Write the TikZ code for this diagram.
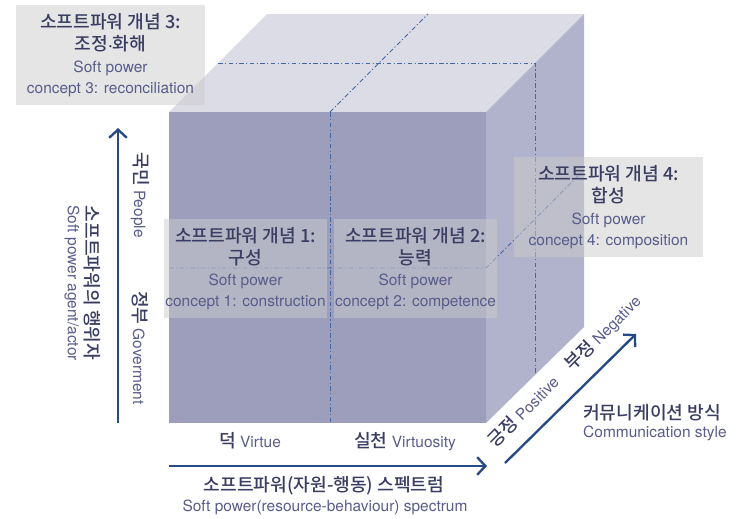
\documentclass[tikz,border=0pt]{standalone}
\usepackage{fontspec}
\setmainfont{TeX Gyre Heros}
\newfontfamily\kr{Noto Sans CJK KR Medium}
\usetikzlibrary{arrows.meta}

\definecolor{frontcol}{HTML}{9D9EBC}
\definecolor{topcol}{HTML}{DCDCE7}
\definecolor{sidecol}{HTML}{B1B2CB}
\definecolor{guidecol}{HTML}{4468A6}
\definecolor{axiscol}{HTML}{274A86}
\definecolor{krcol}{HTML}{3A3D62}
\definecolor{encol}{HTML}{585C8A}

\newcommand{\krb}{\kr\fontsize{15.5}{19}\selectfont}

\begin{document}
\begin{tikzpicture}[x=0.03cm, y=-0.03cm,
  guide/.style={draw=guidecol, line width=0.7pt, dash pattern=on 4pt off 2pt on 1pt off 2pt},
  axis/.style={draw=axiscol, line width=2pt, -{Straight Barb[length=7pt,width=15pt]}},
  conbox/.style={fill=black!20, fill opacity=0.5, text opacity=1, inner sep=0pt,
    align=center, text=encol, font=\fontsize{13.2}{18}\selectfont},
  axlab/.style={text=encol, font=\fontsize{13.2}{15}\selectfont, inner sep=0pt}]
  \useasboundingbox (0,0) rectangle (745,518);

  % 立方体三个面
  \fill[topcol] (169,112) -- (486,112) -- (584,14) -- (267,14) -- cycle;
  \fill[sidecol] (486,112) -- (584,14) -- (584,327) -- (486,423) -- cycle;
  \fill[frontcol] (169,112) rectangle (486,423);

  % 中线(点划线)
  \draw[guide] (330,112) -- (330,423);
  \draw[guide] (169,268) -- (486,268) -- (584,170);
  \draw[guide] (218,63) -- (535,63) -- (535,375);
  \draw[guide] (330,112) -- (428,14);

  % 四个概念框
  \node[conbox, minimum width=5.67cm, minimum height=3cm] (con3) at (110.5,55)
    {{\krb\textcolor{krcol}{소프트파워 개념 3:}}\\[1pt]\textcolor{krcol}{{\krb 조정}\textbf{·}{\krb 화해}}\\Soft power\\concept 3: reconciliation};
  \node[conbox, minimum width=4.89cm, minimum height=2.97cm] (con1) at (245.5,268.5)
    {{\krb\textcolor{krcol}{소프트파워 개념 1:}}\\[1pt]{\krb\textcolor{krcol}{구성}}\\Soft power\\concept 1: construction};
  \node[conbox, minimum width=4.89cm, minimum height=2.97cm] (con2) at (415.5,268.5)
    {{\krb\textcolor{krcol}{소프트파워 개념 2:}}\\[1pt]{\krb\textcolor{krcol}{능력}}\\Soft power\\concept 2: competence};
  \node[conbox, minimum width=5.67cm, minimum height=3cm] (con4) at (608.5,207)
    {{\krb\textcolor{krcol}{소프트파워 개념 4:}}\\[1pt]{\krb\textcolor{krcol}{합성}}\\Soft power\\concept 4: composition};

  % 纵轴:行为者
  \coordinate (actlow) at (118,423);
  \coordinate (acthigh) at (118,128);
  \draw[axis] (actlow) -- (acthigh);
  \node[axlab, rotate=-90] (people) at (140,195) {{\krb\textcolor{krcol}{국민}} People};
  \node[axlab, rotate=-90] (govt) at (140,348) {{\krb\textcolor{krcol}{정부}} Goverment};
  \node[axlab, rotate=-90] (actkr) at (92,283) {\krb\textcolor{krcol}{소프트파워의 행위자}};
  \node[axlab, rotate=-90] (acten) at (72,283) {Soft power agent/actor};

  % 横轴:资源-行动
  \coordinate (specleft) at (169,466);
  \coordinate (specright) at (487,466);
  \draw[axis] (specleft) -- (specright);
  \node[axlab] (virtue) at (250,441) {{\krb\textcolor{krcol}{덕}} Virtue};
  \node[axlab] (virtuo) at (405,442) {{\krb\textcolor{krcol}{실천}} Virtuosity};
  \node[axlab] (speckr) at (324,486) {\krb\textcolor{krcol}{소프트파워(자원-행동) 스펙트럼}};
  \node[axlab] (specen) at (325,507) {Soft power(resource-behaviour) spectrum};

  % 斜轴:沟通方式
  \coordinate (commlow) at (505,463);
  \coordinate (commhigh) at (636,334);
  \draw[axis] (commlow) -- (commhigh);
  \node[axlab, rotate=45] (posi) at (523,411) {{\krb\textcolor{krcol}{긍정}} Positive};
  \node[axlab, rotate=45] (nega) at (603,333) {{\krb\textcolor{krcol}{부정}} Negative};
  \node[axlab, anchor=west] (commkr) at (583,413) {\krb\textcolor{krcol}{커뮤니케이션 방식}};
  \node[axlab, anchor=west] (commen) at (583,433) {Communication style};
\end{tikzpicture}
\end{document}
